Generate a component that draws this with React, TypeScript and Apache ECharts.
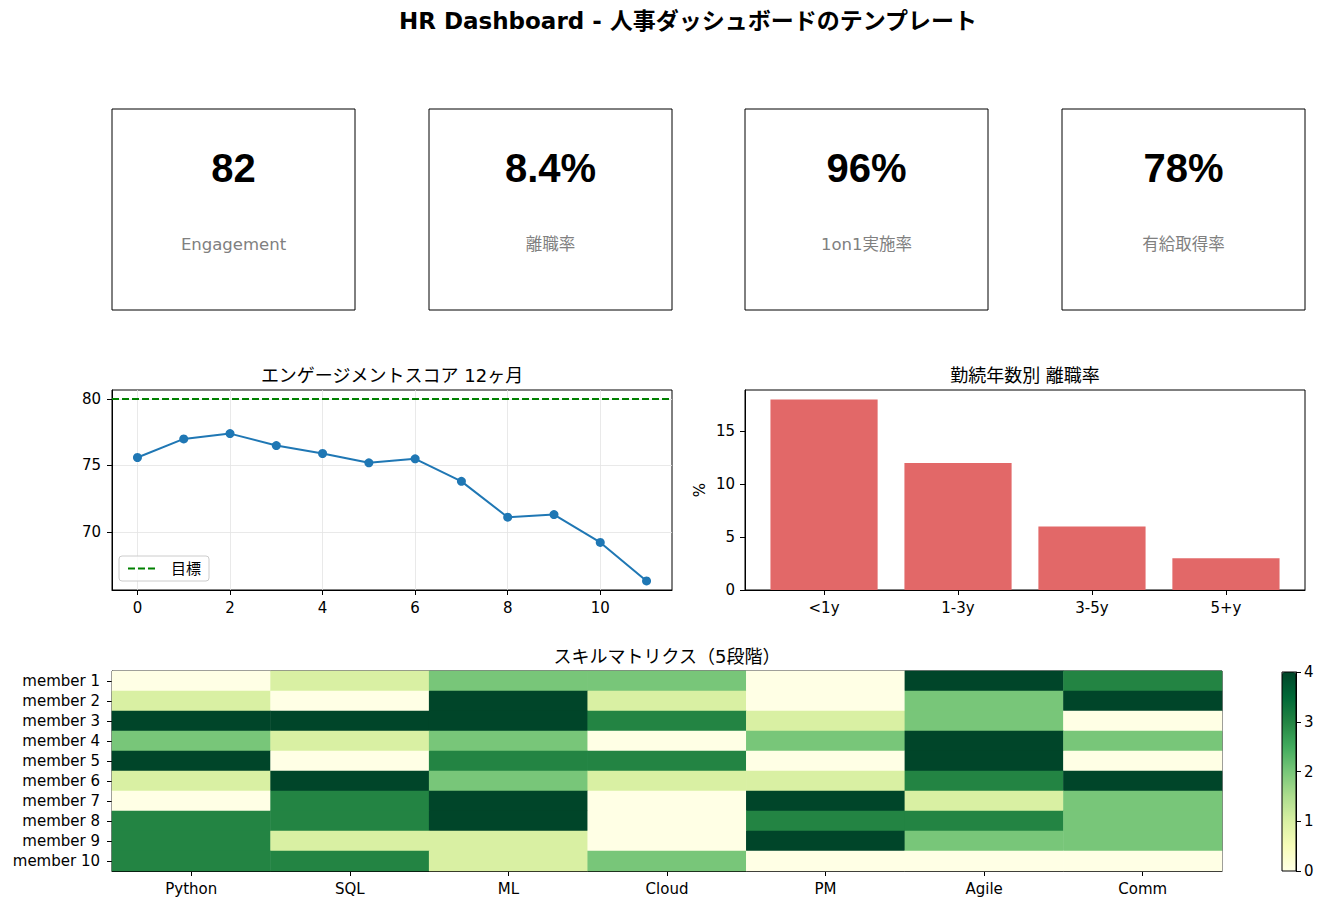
import { useEffect, useRef } from 'react';
import * as echarts from 'echarts';

// KPI cards
const kpiValues = ['82', '8.4%', '96%', '78%'];
const kpiLabels = ['Engagement', '離職率', '1on1実施率', '有給取得率'];

// engagement score, 12 months
const months = [0, 1, 2, 3, 4, 5, 6, 7, 8, 9, 10, 11];
const engagement = [75.6, 77.0, 77.4, 76.5, 75.9, 75.2, 75.5, 73.8, 71.1, 71.3, 69.2, 66.3];
const engagementTarget = 80;
const lineXTicks = [0, 2, 4, 6, 8, 10];
const lineYTicks = [70, 75, 80];

// attrition by tenure
const tenureBands = ['<1y', '1-3y', '3-5y', '5+y'];
const tenureAttrition = [18, 12, 6, 3];
const barXTicks = [0, 1, 2, 3];
const barYTicks = [0, 5, 10, 15];

// skill matrix
const skills = ['Python', 'SQL', 'ML', 'Cloud', 'PM', 'Agile', 'Comm'];
const members = ['member 1', 'member 2', 'member 3', 'member 4', 'member 5',
  'member 6', 'member 7', 'member 8', 'member 9', 'member 10'];
const skillScores = [
  [0, 1, 2, 2, 0, 4, 3],
  [1, 0, 4, 1, 0, 2, 4],
  [4, 4, 4, 3, 1, 2, 0],
  [2, 1, 2, 0, 2, 4, 2],
  [4, 0, 3, 3, 0, 4, 0],
  [1, 4, 2, 1, 1, 3, 4],
  [0, 3, 4, 0, 4, 1, 2],
  [3, 3, 4, 0, 3, 3, 2],
  [3, 1, 1, 0, 4, 2, 2],
  [3, 3, 1, 2, 0, 0, 0],
];
const scoreTicks = [0, 1, 2, 3, 4];
const ylGn = ['#ffffe5', '#f7fcb9', '#d9f0a3', '#addd8e', '#78c679', '#41ab5d', '#238443', '#006837', '#004529'];

const FONT = '"DejaVu Sans", "Noto Sans CJK JP", sans-serif';
const NUM_FONT = '"Liberation Sans", "Noto Sans CJK JP", sans-serif';

// matplotlib-style 5% margins
const pad = (lo: number, hi: number) => [lo - (hi - lo) * 0.05, hi + (hi - lo) * 0.05];

export default function App() {
  const chartRef = useRef<HTMLDivElement>(null);

  useEffect(() => {
    if (!chartRef.current) return;
    const chart = echarts.init(chartRef.current, null, { renderer: 'svg' });

    const [lxMin, lxMax] = pad(months[0], months[months.length - 1]);
    const [lyMin, lyMax] = pad(Math.min(...engagement), Math.max(engagementTarget, ...engagement));
    const [bxMin, bxMax] = pad(-0.4, tenureBands.length - 1 + 0.4);
    const byMax = Math.max(...tenureAttrition) * 1.05;
    const barGridWidth = 560;
    const barPx = (0.8 * barGridWidth) / (bxMax - bxMin);

    const tickLabel = { color: '#000', fontSize: 15, fontFamily: FONT };
    const axisLine = { show: true, onZero: false, lineStyle: { color: '#000', width: 1 } };
    const tick = (values?: number[]) => ({
      show: true, length: 5, lineStyle: { color: '#000', width: 1 },
      ...(values ? { customValues: values } : {}),
    });
    const gridLine = { show: true, lineStyle: { color: '#e3e3e3', width: 0.8 } };

    const boxLefts = [112, 429, 745, 1062];
    const kpiCards = kpiValues.map((v, i) => ({
      type: 'group',
      x: boxLefts[i],
      y: 109,
      children: [
        {
          type: 'rect',
          shape: { x: 0, y: 0, width: 243, height: 201 },
          style: { fill: '#fff', stroke: '#000', lineWidth: 1 },
        },
        {
          type: 'text',
          x: 121.5,
          y: 59,
          style: {
            text: v, fontSize: 40, fontWeight: 'bold', fontFamily: NUM_FONT, fill: '#000',
            align: 'center', verticalAlign: 'middle', textAlign: 'center', textVerticalAlign: 'middle',
          },
        },
        {
          type: 'text',
          x: 121.5,
          y: 135,
          style: {
            text: kpiLabels[i], fontSize: 16.5, fontFamily: FONT, fill: '#808080',
            align: 'center', verticalAlign: 'middle', textAlign: 'center', textVerticalAlign: 'middle',
          },
        },
      ],
    }));

    const subTitle = { fontSize: 18, fontWeight: 'normal', color: '#000', fontFamily: FONT };

    const option = {
      animation: false,
      textStyle: { fontFamily: FONT },
      title: [
        {
          text: 'HR Dashboard - 人事ダッシュボードのテンプレート',
          left: 688, top: 9, textAlign: 'center', padding: 0,
          textStyle: { fontSize: 23, fontWeight: 'bold', color: '#000', fontFamily: FONT },
        },
        { text: 'エンゲージメントスコア 12ヶ月', left: 392, top: 366, textAlign: 'center', padding: 0, textStyle: subTitle },
        { text: '勤続年数別 離職率', left: 1025, top: 366, textAlign: 'center', padding: 0, textStyle: subTitle },
        { text: 'スキルマトリクス（5段階）', left: 667, top: 647, textAlign: 'center', padding: 0, textStyle: subTitle },
      ],
      graphic: kpiCards,
      legend: {
        data: ['目標'],
        left: 119,
        top: 556,
        padding: [5, 8],
        itemWidth: 30,
        itemHeight: 14,
        itemStyle: { opacity: 0 },
        borderColor: '#cccccc',
        borderWidth: 1,
        borderRadius: 3,
        backgroundColor: 'rgba(255,255,255,0.8)',
        textStyle: { fontSize: 15, color: '#000', fontFamily: FONT, padding: [0, 0, 0, 8] },
      },
      grid: [
        { left: 112, top: 390, width: 560, height: 200, show: true, borderColor: '#000', borderWidth: 1, containLabel: false },
        { left: 745, top: 390, width: barGridWidth, height: 200, show: true, borderColor: '#000', borderWidth: 1, containLabel: false },
        { left: 112, top: 671, width: 1110, height: 200, show: true, borderColor: '#000', borderWidth: 1, containLabel: false },
        { left: 1282, top: 672, width: 14, height: 199, show: true, borderColor: '#000', borderWidth: 1, z: 10, containLabel: false },
      ],
      xAxis: [
        {
          gridIndex: 0, type: 'value', min: lxMin, max: lxMax,
          axisLine, axisTick: tick(lineXTicks),
          axisLabel: { ...tickLabel, margin: 10, customValues: lineXTicks },
          splitLine: gridLine,
        },
        {
          gridIndex: 1, type: 'value', min: bxMin, max: bxMax,
          axisLine, axisTick: tick(barXTicks),
          axisLabel: { ...tickLabel, margin: 10, customValues: barXTicks, formatter: (v: number) => tenureBands[v] ?? '' },
          splitLine: { show: false },
        },
        {
          gridIndex: 2, type: 'category', data: skills,
          axisLine, axisTick: { ...tick(), alignWithLabel: true },
          axisLabel: { ...tickLabel, margin: 10 },
          splitLine: { show: false },
        },
        { gridIndex: 3, type: 'value', show: false },
      ],
      yAxis: [
        {
          gridIndex: 0, type: 'value', min: lyMin, max: lyMax,
          axisLine, axisTick: tick(lineYTicks),
          axisLabel: { ...tickLabel, margin: 11, customValues: lineYTicks },
          splitLine: gridLine,
        },
        {
          gridIndex: 1, type: 'value', min: 0, max: byMax,
          axisLine, axisTick: tick(barYTicks),
          axisLabel: { ...tickLabel, margin: 10, customValues: barYTicks },
          splitLine: { show: false },
          name: '%', nameLocation: 'middle', nameGap: 38,
          nameTextStyle: { fontSize: 15, color: '#000', fontFamily: FONT },
        },
        {
          gridIndex: 2, type: 'category', data: members, inverse: true,
          axisLine, axisTick: { ...tick(), alignWithLabel: true },
          axisLabel: { ...tickLabel, margin: 12 },
          splitLine: { show: false },
        },
        {
          gridIndex: 3, type: 'value', min: 0, max: 4, interval: 1, position: 'right',
          axisLine, axisTick: tick(scoreTicks),
          axisLabel: { ...tickLabel, margin: 8, customValues: scoreTicks },
          splitLine: { show: false },
        },
      ],
      visualMap: {
        type: 'continuous',
        min: 0,
        max: 4,
        seriesIndex: 3,
        calculable: false,
        hoverLink: false,
        left: 1282,
        top: 672,
        padding: 0,
        itemWidth: 14,
        itemHeight: 199,
        inRange: { color: ylGn },
      },
      series: [
        {
          name: 'score',
          type: 'line',
          xAxisIndex: 0, yAxisIndex: 0,
          data: months.map((m, i) => [m, engagement[i]]),
          symbol: 'circle', symbolSize: 9,
          lineStyle: { color: '#1f77b4', width: 2 },
          itemStyle: { color: '#1f77b4' },
          z: 3,
        },
        {
          name: '目標',
          type: 'line',
          xAxisIndex: 0, yAxisIndex: 0,
          data: [],
          symbol: 'none',
          lineStyle: { color: '#008000', width: 2, type: [7, 3] },
          itemStyle: { color: '#008000' },
          markLine: {
            silent: true,
            symbol: ['none', 'none'],
            label: { show: false },
            lineStyle: { color: '#008000', width: 2, type: [7, 3] },
            data: [{ yAxis: engagementTarget }],
          },
        },
        {
          name: 'attrition',
          type: 'bar',
          xAxisIndex: 1, yAxisIndex: 1,
          data: tenureAttrition.map((v, i) => [i, v]),
          barWidth: barPx,
          itemStyle: { color: '#e26868' },
        },
        {
          name: 'skills',
          type: 'heatmap',
          xAxisIndex: 2, yAxisIndex: 2,
          data: skillScores.flatMap((row, r) => row.map((v, c) => [c, r, v])),
          itemStyle: { borderWidth: 0 },
          emphasis: { disabled: true },
        },
      ],
    };

    chart.setOption(option as any);
    return () => chart.dispose();
  }, []);

  return (
    <div
      ref={chartRef}
      style={{ position: 'absolute', left: 0, top: 0, width: 1323, height: 908, background: '#fff' }}
    />
  );
}
